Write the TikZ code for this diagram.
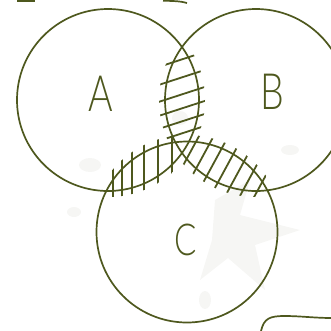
\documentclass[tikz,border=0pt]{standalone}
\usepackage{fontspec}
\usepackage{tikz}
\usetikzlibrary{positioning}
\newfontfamily\handfont{Lato}[UprightFont={* Light}]
\definecolor{ink}{RGB}{78,88,30}
\definecolor{splat}{RGB}{246,246,244}

\begin{document}
\begin{tikzpicture}[x=1pt, y=-1pt,
    ring/.style={circle, draw=ink, line width=1.7pt, minimum size=182pt, inner sep=0pt},
    letter/.style={text=ink, font=\fontsize{50}{50}\handfont, xscale=0.75},
    hatch/.style={draw=ink, line width=1.8pt},
    bit/.style={draw=ink, line width=1.7pt}
    ]
    \useasboundingbox (0,0) rectangle (331,330);

    % faint splatter behind
    \fill[splat] (90,165) ellipse (11 and 7);
    \fill[splat] (74,212) ellipse (7 and 5);
    \fill[splat] (180,118) ellipse (8 and 7);
    \fill[splat] (215,200) -- (250,180) -- (240,215) -- (300,230) -- (255,245) -- (265,290) -- (228,258) -- (200,280) -- (212,240) -- cycle;
    \fill[splat] (290,150) ellipse (9 and 5);
    \fill[splat] (205,300) ellipse (6 and 9);

    % the three sets
    \node[ring] (A) at (108,100) {};
    \node[ring] (B) at (256,100) {};
    \node[ring, minimum size=181pt] (C) at (187,232) {};

    \node[letter] (la) at (101,94) {A};
    \node[letter] (lb) at (272,92) {B};
    \node[letter, font=\fontsize{44}{44}\handfont] (lc) at (186,240) {C};

    % A and B
    \begin{scope}
      \clip (A.center) circle (97);
      \clip (B.center) circle (97);
      \foreach \yc in {60,78,95,109,122,134}
        \draw[hatch] (140,\yc+13) -- (220,\yc-13);
    \end{scope}

    % A and C
    \begin{scope}
      \clip (A.center) circle (97);
      \clip (C.center) circle (97);
      \foreach \xc in {113,122,132,144,158,172}
        \draw[hatch] (\xc,110) -- (\xc,215);
    \end{scope}

    % B and C
    \begin{scope}
      \clip (B.center) circle (97);
      \clip (C.center) circle (97);
      \foreach \s in {0.14,0.27,0.40,0.53,0.66,0.79,0.92}
        \draw[hatch] ({180+88*\s-25},{142+46*\s+46}) -- ({180+88*\s+25},{142+46*\s-46});
    \end{scope}

    % cut-off pieces at the edges
    \draw[bit] (17,0.8) -- (35,0.8);
    \draw[bit] (163,0.8) .. controls (175,0.8) and (182,1.5) .. (187,3);
    \draw[bit] (261,331) .. controls (264,318) and (270,316) .. (285,316) .. controls (300,316) and (315,318) .. (332,318);
\end{tikzpicture}
\end{document}
